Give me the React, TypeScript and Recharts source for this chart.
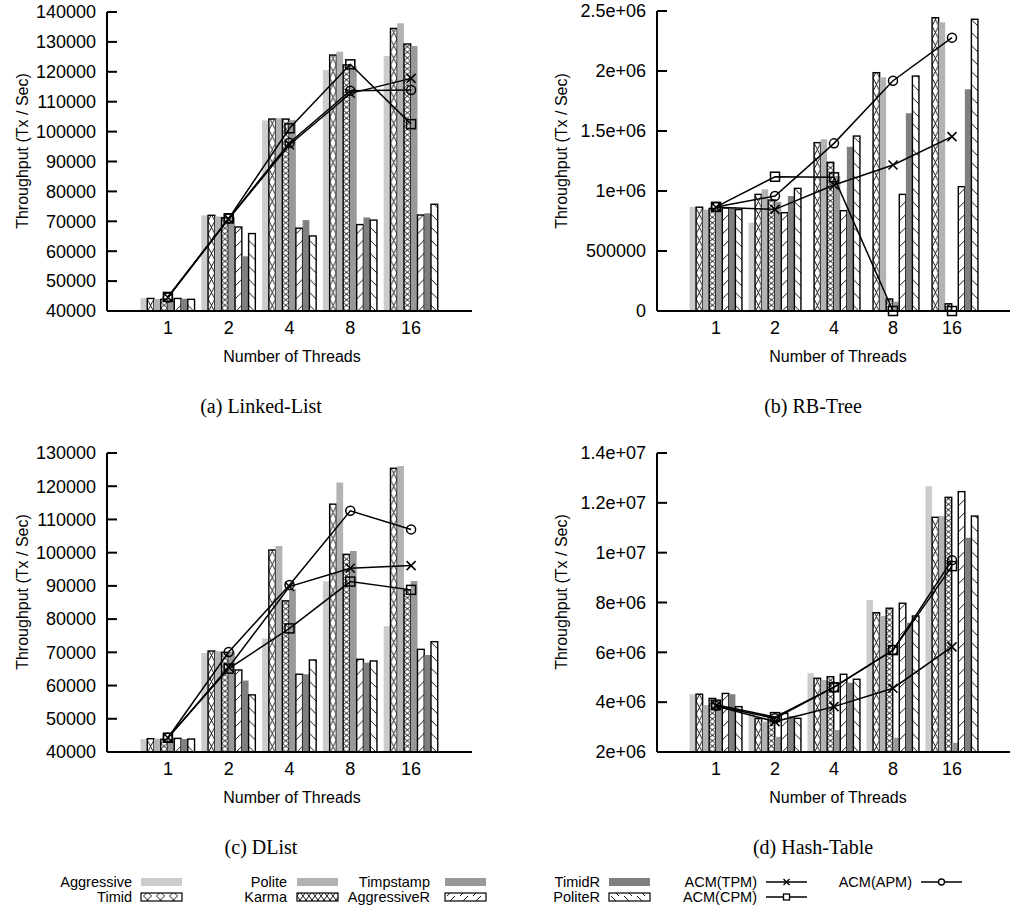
import React from "react";
import { Bar, ComposedChart, Line, XAxis, YAxis } from "recharts";

const threads = ["1", "2", "4", "8", "16"];
const barNames = ["Aggressive", "Timid", "Polite", "Karma", "Timpstamp", "AggressiveR", "TimidR", "PoliteR"];
const lineNames = ["ACM(TPM)", "ACM(CPM)", "ACM(APM)"];

// (a) Linked-List, one row per bar series
const linkedListBars = [
  [44300, 72000, 103700, 120600, 125300],
  [44200, 72000, 104200, 125600, 134500],
  [44000, 71600, 104500, 126700, 136200],
  [43900, 71200, 104200, 122300, 129300],
  [44100, 71400, 103800, 121700, 128600],
  [44200, 68100, 67700, 68900, 72100],
  [44100, 58300, 70400, 71300, 72700],
  [43900, 65900, 65100, 70400, 75700],
];
const linkedListLines = [
  [44600, 70800, 95600, 112800, 117800],
  [44700, 71000, 101100, 122500, 102500],
  [44500, 70900, 96300, 113700, 113900],
];

// (b) RB-Tree
const rbTreeBars = [
  [868000, 736000, 12000, 6000, 4000],
  [865000, 972000, 1403000, 1986000, 2444000],
  [845000, 1014000, 1431000, 1947000, 2406000],
  [855000, 925000, 1239000, 100000, 60000],
  [862000, 911000, 1125000, 78000, 4000],
  [858000, 819000, 836000, 972000, 1036000],
  [862000, 958000, 1369000, 1647000, 1847000],
  [845000, 1022000, 1458000, 1958000, 2431000],
];
const rbTreeLines = [
  [865000, 847000, 1050000, 1217000, 1453000],
  [868000, 1119000, 1114000, 0, 0],
  [866000, 958000, 1397000, 1919000, 2278000],
];

// (c) DList
const dlistBars = [
  [43900, 69800, 74200, 91300, 77900],
  [44000, 70400, 100800, 114600, 125400],
  [44000, 70300, 102000, 121100, 126100],
  [43800, 70000, 85500, 99500, 88800],
  [44100, 70200, 89000, 100500, 91500],
  [44100, 64700, 63400, 67900, 70900],
  [43900, 61500, 63400, 66900, 69200],
  [43900, 57200, 67700, 67400, 73200],
];
const dlistLines = [
  [44300, 65500, 89800, 95300, 96100],
  [44300, 65100, 77200, 91300, 88800],
  [44300, 70100, 90300, 112600, 107000],
];

// (d) Hash-Table
const hashBars = [
  [4320000, 3620000, 5160000, 8100000, 12670000],
  [4320000, 3350000, 4960000, 7590000, 11420000],
  [3880000, 3220000, 4890000, 7460000, 11470000],
  [4150000, 3400000, 5020000, 7770000, 12220000],
  [3900000, 2610000, 2880000, 2570000, 2370000],
  [4350000, 3550000, 5120000, 7970000, 12450000],
  [4320000, 3440000, 4780000, 7190000, 10600000],
  [3820000, 3350000, 4920000, 7460000, 11470000],
];
const hashLines = [
  [3850000, 3220000, 3820000, 4560000, 6220000],
  [3900000, 3400000, 4600000, 6090000, 9460000],
  [3850000, 3350000, 4600000, 6090000, 9700000],
];

const linkedListTicks = [40000, 50000, 60000, 70000, 80000, 90000, 100000, 110000, 120000, 130000, 140000];
const linkedListTickLabels = ["40000", "50000", "60000", "70000", "80000", "90000", "100000", "110000", "120000", "130000", "140000"];
const rbTreeTicks = [0, 500000, 1000000, 1500000, 2000000, 2500000];
const rbTreeTickLabels = ["0", "500000", "1e+06", "1.5e+06", "2e+06", "2.5e+06"];
const dlistTicks = [40000, 50000, 60000, 70000, 80000, 90000, 100000, 110000, 120000, 130000];
const dlistTickLabels = ["40000", "50000", "60000", "70000", "80000", "90000", "100000", "110000", "120000", "130000"];
const hashTicks = [2000000, 4000000, 6000000, 8000000, 10000000, 12000000, 14000000];
const hashTickLabels = ["2e+06", "4e+06", "6e+06", "8e+06", "1e+07", "1.2e+07", "1.4e+07"];

const SANS = "'Liberation Sans', Arial, Helvetica, sans-serif";
const SERIF = "'Liberation Serif', 'Times New Roman', serif";
const Y_W = 107;
const TICK_FS = 18;

const grayFill: Record<string, string> = {
  Aggressive: "#cccccc",
  Polite: "#b3b3b3",
  Timpstamp: "#999999",
  TimidR: "#808080",
};
const hatchKind: Record<string, string> = {
  Timid: "timid",
  Karma: "karma",
  AggressiveR: "fwd",
  PoliteR: "back",
};

// hatched bar: pattern is anchored to the bar's own x so every bar looks alike
const hatchShape = (kind: string, panel: string) => (props: any) => {
  const { x, y, width: w, height: h } = props;
  if (!h || h <= 0) return <g />;
  const id = `${panel}-${kind}-${Math.round(x * 10)}`;
  let p = 13;
  let segs: number[][] = [];
  if (kind === "timid") segs = [[0, 0, w, p], [w, 0, 0, p]];
  if (kind === "karma") {
    p = 5.5;
    segs = [[0, 0, w, p], [w, 0, 0, p]];
  }
  if (kind === "fwd") segs = [[0, p, w, p - w]];
  if (kind === "back") segs = [[0, p - w, w, p]];
  return (
    <g>
      <defs>
        <pattern id={id} patternUnits="userSpaceOnUse" x={x} y={0} width={w} height={p}>
          <rect width={w} height={p} fill="#fff" />
          {segs.map((s, i) => (
            <line key={i} x1={s[0]} y1={s[1]} x2={s[2]} y2={s[3]} stroke="#000" strokeWidth={0.9} />
          ))}
        </pattern>
      </defs>
      <rect x={x} y={y} width={w} height={h} fill={`url(#${id})`} stroke="#000" strokeWidth={1.4} />
    </g>
  );
};

const crossDot = (s: number) => (props: any) => {
  const { cx, cy, index } = props;
  return (
    <path
      key={index}
      d={`M${cx - s},${cy - s}L${cx + s},${cy + s}M${cx + s},${cy - s}L${cx - s},${cy + s}`}
      stroke="#000"
      strokeWidth={1.5}
      fill="none"
    />
  );
};
const squareDot = (s: number) => (props: any) => {
  const { cx, cy, index } = props;
  return <rect key={index} x={cx - s} y={cy - s} width={2 * s} height={2 * s} fill="none" stroke="#000" strokeWidth={1.5} />;
};
const circleDot = (r: number) => (props: any) => {
  const { cx, cy, index } = props;
  return <circle key={index} cx={cx} cy={cy} r={r} fill="none" stroke="#000" strokeWidth={1.5} />;
};

const makeYTick = (ticks: number[], labels: string[]) => (props: any) => {
  const { y, payload } = props;
  const k = ticks.indexOf(payload.value);
  return (
    <g>
      <line x1={Y_W} x2={Y_W + 10} y1={y} y2={y} stroke="#000" strokeWidth={2} />
      <text x={Y_W - 11} y={y} dy="0.35em" textAnchor="end" fontSize={TICK_FS} fill="#000" fontFamily={SANS}>
        {labels[k]}
      </text>
    </g>
  );
};

type PanelProps = {
  id: string;
  left: number;
  top: number;
  width: number;
  marginTop: number;
  pad: number;
  bars: number[][];
  lines: number[][];
  ticks: number[];
  tickLabels: string[];
};

function Panel({ id, left, top, width, marginTop, pad, bars, lines, ticks, tickLabels }: PanelProps) {
  const data = threads.map((t, i) => {
    const row: Record<string, any> = { t };
    barNames.forEach((n, k) => (row[n] = bars[k][i]));
    lineNames.forEach((n, k) => (row[n] = lines[k][i]));
    return row;
  });
  const plotW = width - Y_W;
  const band = (plotW - 2 * pad) / threads.length;
  const height = 345;
  return (
    <div style={{ position: "absolute", left, top }}>
      <ComposedChart
        width={width}
        height={height}
        data={data}
        margin={{ top: marginTop, right: 0, left: 0, bottom: 0 }}
        barGap={0}
        barSize={band / 9}
      >
        <XAxis
          dataKey="t"
          type="category"
          interval={0}
          height={height - 311}
          padding={{ left: pad, right: pad }}
          axisLine={{ stroke: "#000", strokeWidth: 2 }}
          tickLine={false}
          tickMargin={4}
          tick={{ fill: "#000", fontSize: TICK_FS, fontFamily: SANS }}
        />
        <YAxis
          type="number"
          width={Y_W}
          domain={[ticks[0], ticks[ticks.length - 1]]}
          ticks={ticks}
          interval={0}
          axisLine={{ stroke: "#000", strokeWidth: 2 }}
          tickLine={false}
          tick={makeYTick(ticks, tickLabels)}
        />
        {barNames.map((n) =>
          grayFill[n] ? (
            <Bar key={n} dataKey={n} fill={grayFill[n]} isAnimationActive={false} />
          ) : (
            <Bar key={n} dataKey={n} fill="#fff" shape={hatchShape(hatchKind[n], id)} isAnimationActive={false} />
          )
        )}
        <Line dataKey="ACM(TPM)" type="linear" stroke="#000" strokeWidth={1.5} dot={crossDot(4.5)} isAnimationActive={false} />
        <Line dataKey="ACM(CPM)" type="linear" stroke="#000" strokeWidth={1.5} dot={squareDot(4.5)} isAnimationActive={false} />
        <Line dataKey="ACM(APM)" type="linear" stroke="#000" strokeWidth={1.5} dot={circleDot(4.5)} isAnimationActive={false} />
      </ComposedChart>
    </div>
  );
}

const legendCols = [
  { textEnd: 132, x0: 141, items: ["Aggressive", "Timid"] },
  { textEnd: 287, x0: 297, items: ["Polite", "Karma"] },
  { textEnd: 430, x0: 445, items: ["Timpstamp", "AggressiveR"] },
  { textEnd: 600, x0: 609, items: ["TimidR", "PoliteR"] },
  { textEnd: 757, x0: 766, items: ["ACM(TPM)", "ACM(CPM)"] },
  { textEnd: 912, x0: 921, items: ["ACM(APM)"] },
];
const legendRows = [882, 897];

function LegendSwatch({ name, x, y }: { name: string; x: number; y: number }) {
  const w = 41;
  if (grayFill[name]) return <rect x={x} y={y - 4} width={w} height={8} fill={grayFill[name]} />;
  if (hatchKind[name]) {
    return <rect x={x} y={y - 4} width={w} height={8} fill={`url(#lg-${hatchKind[name]})`} stroke="#000" strokeWidth={1.2} />;
  }
  const cx = x + w / 2;
  let mark = null;
  if (name === "ACM(TPM)") mark = <path d={`M${cx - 3},${y - 3}L${cx + 3},${y + 3}M${cx + 3},${y - 3}L${cx - 3},${y + 3}`} stroke="#000" strokeWidth={1.3} />;
  if (name === "ACM(CPM)") mark = <rect x={cx - 3} y={y - 3} width={6} height={6} fill="#fff" stroke="#000" strokeWidth={1.3} />;
  if (name === "ACM(APM)") mark = <circle cx={cx} cy={y} r={3} fill="#fff" stroke="#000" strokeWidth={1.3} />;
  return (
    <g>
      <line x1={x} x2={x + w} y1={y} y2={y} stroke="#000" strokeWidth={1.5} />
      {mark}
    </g>
  );
}

function Overlay() {
  const yTitle = "Throughput (Tx / Sec)";
  const xTitle = "Number of Threads";
  return (
    <svg width={1010} height={913} style={{ position: "absolute", left: 0, top: 0 }}>
      <defs>
        <pattern id="lg-timid" patternUnits="userSpaceOnUse" x={141} y={0} width={13} height={8}>
          <line x1={2.5} y1={0} x2={10.5} y2={8} stroke="#000" strokeWidth={0.9} />
          <line x1={10.5} y1={0} x2={2.5} y2={8} stroke="#000" strokeWidth={0.9} />
        </pattern>
        <pattern id="lg-karma" patternUnits="userSpaceOnUse" x={297} y={0} width={6} height={8}>
          <line x1={0} y1={0} x2={6} y2={8} stroke="#000" strokeWidth={0.9} />
          <line x1={6} y1={0} x2={0} y2={8} stroke="#000" strokeWidth={0.9} />
        </pattern>
        <pattern id="lg-fwd" patternUnits="userSpaceOnUse" x={445} y={0} width={13} height={8}>
          <line x1={2} y1={8} x2={10} y2={0} stroke="#000" strokeWidth={0.9} />
        </pattern>
        <pattern id="lg-back" patternUnits="userSpaceOnUse" x={609} y={0} width={13} height={8}>
          <line x1={2} y1={0} x2={10} y2={8} stroke="#000" strokeWidth={0.9} />
        </pattern>
      </defs>

      <g fontFamily={SANS} fontSize={16} fill="#000">
        <text transform="translate(22,151) rotate(-90)" textAnchor="middle" dy="0.35em">{yTitle}</text>
        <text transform="translate(561,151) rotate(-90)" textAnchor="middle" dy="0.35em">{yTitle}</text>
        <text transform="translate(22,592) rotate(-90)" textAnchor="middle" dy="0.35em">{yTitle}</text>
        <text transform="translate(561,592) rotate(-90)" textAnchor="middle" dy="0.35em">{yTitle}</text>
        <text x={292} y={356} dy="0.35em" textAnchor="middle">{xTitle}</text>
        <text x={838} y={356} dy="0.35em" textAnchor="middle">{xTitle}</text>
        <text x={292} y={797} dy="0.35em" textAnchor="middle">{xTitle}</text>
        <text x={838} y={797} dy="0.35em" textAnchor="middle">{xTitle}</text>
      </g>

      <g fontFamily={SERIF} fontSize={20} fill="#000">
        <text x={261} y={406} dy="0.35em" textAnchor="middle">(a) Linked-List</text>
        <text x={813} y={406} dy="0.35em" textAnchor="middle">(b) RB-Tree</text>
        <text x={261} y={847} dy="0.35em" textAnchor="middle">(c) DList</text>
        <text x={813} y={847} dy="0.35em" textAnchor="middle">(d) Hash-Table</text>
      </g>

      <g fontFamily={SANS} fontSize={14.5} fill="#000">
        {legendCols.map((c) =>
          c.items.map((name, r) => (
            <g key={name}>
              <text x={c.textEnd} y={legendRows[r]} dy="0.35em" textAnchor="end">{name}</text>
              <LegendSwatch name={name} x={c.x0} y={legendRows[r]} />
            </g>
          ))
        )}
      </g>
    </svg>
  );
}

export default function App() {
  return (
    <div style={{ position: "absolute", left: 0, top: 0, width: 1010, height: 913, background: "#fff", overflow: "hidden", fontFamily: SANS }}>
      <Overlay />
      <Panel id="ll" left={0} top={0} width={472} marginTop={12} pad={30.5} bars={linkedListBars} lines={linkedListLines} ticks={linkedListTicks} tickLabels={linkedListTickLabels} />
      <Panel id="rb" left={550} top={0} width={461} marginTop={11} pad={29.5} bars={rbTreeBars} lines={rbTreeLines} ticks={rbTreeTicks} tickLabels={rbTreeTickLabels} />
      <Panel id="dl" left={0} top={441} width={472} marginTop={12} pad={30.5} bars={dlistBars} lines={dlistLines} ticks={dlistTicks} tickLabels={dlistTickLabels} />
      <Panel id="ht" left={550} top={441} width={461} marginTop={12} pad={29.5} bars={hashBars} lines={hashLines} ticks={hashTicks} tickLabels={hashTickLabels} />
    </div>
  );
}
